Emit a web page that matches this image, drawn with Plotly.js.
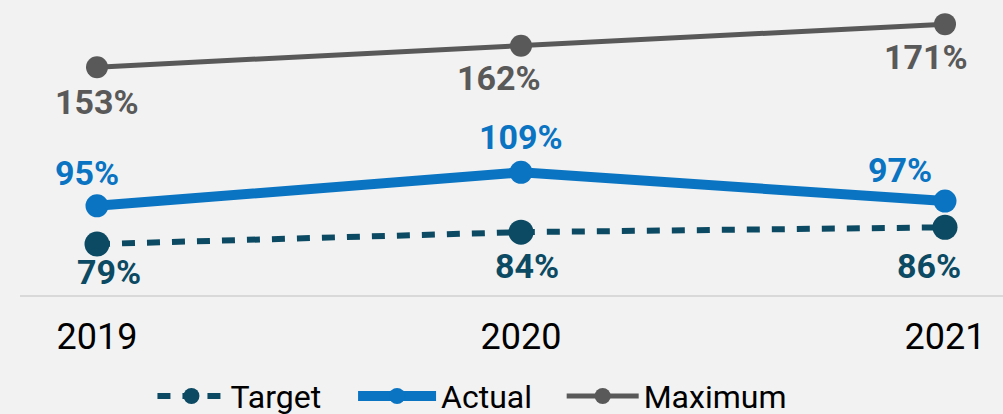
<!DOCTYPE html>
<html>
<head>
<meta charset="utf-8">
<script src="https://cdn.plot.ly/plotly-3.0.1.min.js"></script>
<style>html,body{margin:0;padding:0;background:#f2f2f2;}#chart{width:1003px;height:414px;}</style>
</head>
<body>
<div id="chart"></div>
<script>
var years = ['2019', '2020', '2021'];
var target = [79, 84, 86];
var actual = [95, 109, 97];
var maximum = [153, 162, 171];

var idx = years.map(function (_, i) { return i; });
var cTarget = '#0b4a62', cActual = '#0a74c2', cMax = '#595959';

var traces = [
  {name: 'Target', legend: 'legend', x: idx, y: target, type: 'scatter', mode: 'lines+markers',
   line: {color: cTarget, width: 6, dash: '13px,12px'}, marker: {color: cTarget, size: 25}, cliponaxis: false},
  {name: 'Actual', legend: 'legend2', x: idx, y: actual, type: 'scatter', mode: 'lines+markers',
   line: {color: cActual, width: 10}, marker: {color: cActual, size: 23}, cliponaxis: false},
  {name: 'Maximum', legend: 'legend3', x: idx, y: maximum, type: 'scatter', mode: 'lines+markers',
   line: {color: cMax, width: 5}, marker: {color: cMax, size: 22}, cliponaxis: false}
];

// label offsets (px) per series/point: [xshift, yshift]
var offTarget = [[12, -28], [6, -34], [-16, -39]];
var offActual = [[-10, 33], [0, 35], [-45, 31]];
var offMax = [[0, -35], [-22, -32], [-19, -33]];

var annotations = [];
function addLabels(vals, offs, color) {
  vals.forEach(function (v, i) {
    annotations.push({x: idx[i], y: v, xref: 'x', yref: 'y', text: v + '%', showarrow: false,
      xshift: offs[i][0], yshift: offs[i][1],
      font: {family: 'Roboto', size: 34, color: color, weight: 'bold'}});
  });
}
addLabels(target, offTarget, cTarget);
addLabels(actual, offActual, cActual);
addLabels(maximum, offMax, cMax);

function legendAt(xpos, w) {
  return {orientation: 'h', x: xpos, xanchor: 'left', xref: 'container', yref: 'container', y: 0.043, yanchor: 'middle',
    font: {family: 'Roboto', size: 32, color: '#000000'}, itemwidth: w, bgcolor: 'rgba(0,0,0,0)', valign: 'middle'};
}

var layout = {
  width: 1003, height: 414,
  paper_bgcolor: '#f2f2f2', plot_bgcolor: '#f2f2f2',
  margin: {l: 20, r: 0, t: 0, b: 119},
  font: {family: 'Roboto', color: '#000000'},
  showlegend: true,
  legend: legendAt(0.152, 68),
  legend2: legendAt(0.352, 78),
  legend3: legendAt(0.560, 72),
  xaxis: {range: [-0.1816, 2.1368], tickvals: idx, ticktext: years, showgrid: false, zeroline: false,
    showline: true, linecolor: '#d9d9d9', linewidth: 2, ticks: '', tickfont: {family: 'Roboto', size: 36, color: '#000000'},
    ticklabelstandoff: 9, fixedrange: true},
  yaxis: {range: [57.7, 181.1], visible: false, showgrid: false, zeroline: false, fixedrange: true},
  annotations: annotations
};

Plotly.newPlot('chart', traces, layout, {displayModeBar: false, staticPlot: true});
</script>
</body>
</html>
